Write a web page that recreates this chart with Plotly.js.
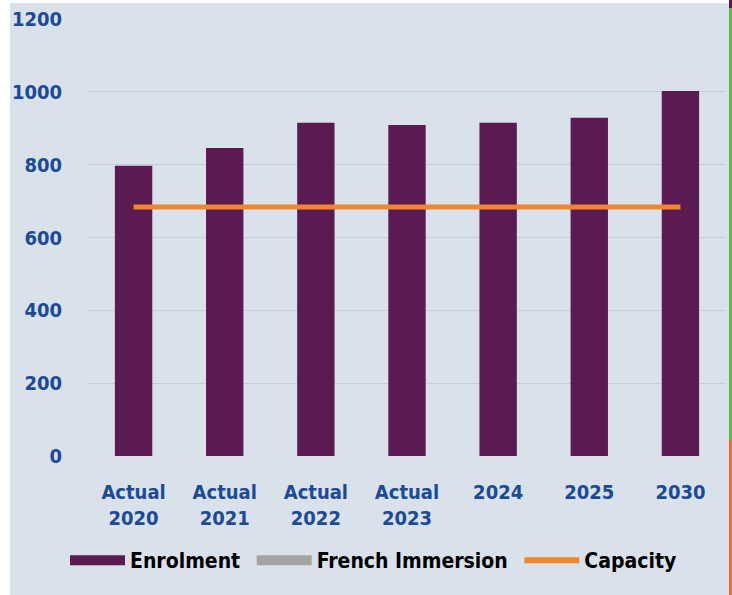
<!DOCTYPE html>
<html>
<head>
<meta charset="utf-8">
<script src="https://cdn.plot.ly/plotly-3.0.1.min.js"></script>
<style>
  html, body { margin: 0; padding: 0; background: #ffffff; }
  #chart { width: 732px; height: 595px; }
</style>
</head>
<body>
<div id="chart"></div>
<script>
// ---- data ----
var categories = ["Actual<br>2020", "Actual<br>2021", "Actual<br>2022", "Actual<br>2023", "2024", "2025", "2030"];
var enrolment = [797, 846, 915, 909, 915, 929, 1002];
var capacity = [684, 684, 684, 684, 684, 684, 684];
var frenchImmersion = [];
var legendNames = ["Enrolment", "French Immersion", "Capacity"];
var yTickValues = [0, 200, 400, 600, 800, 1000, 1200];

var FONT = "'DejaVu Sans Condensed', 'Liberation Sans Narrow', sans-serif";
var BLUE = "#1b4a98";
var PURPLE = "#5c1a52";
var ORANGE = "#f0862e";
var GRAY = "#a3a3a3";
var BG = "#d9e1ea";

var traces = [
  {
    type: "bar", x: categories, y: enrolment, name: legendNames[0],
    marker: { color: PURPLE, line: { width: 0 } },
    width: 0.41, showlegend: false, hoverinfo: "x+y"
  },
  {
    type: "scatter", mode: "lines", x: categories, y: capacity, name: legendNames[2],
    line: { color: ORANGE, width: 5 }, showlegend: false
  },
  // legend entries
  {
    type: "scatter", mode: "lines", x: [null], y: [null],
    name: legendNames[0] + "\u00a0", line: { color: PURPLE, width: 10 }, legendrank: 1, hoverinfo: "skip"
  },
  {
    type: "scatter", mode: "lines", x: [null], y: frenchImmersion.length ? frenchImmersion : [null],
    name: legendNames[1] + "\u00a0", line: { color: GRAY, width: 10 }, legendrank: 2, hoverinfo: "skip"
  },
  {
    type: "scatter", mode: "lines", x: [null], y: [null],
    name: legendNames[2], line: { color: ORANGE, width: 6 }, legendrank: 3, hoverinfo: "skip"
  }
];

function px2x(p) { return (p - 88) / 638; }
function px2y(p) { return (456 - p) / 437; }

var tickFont = { family: FONT, size: 20, color: BLUE, weight: "bold" };

var layout = {
  width: 732, height: 595,
  margin: { l: 88, r: 6, t: 19, b: 139 },
  paper_bgcolor: BG, plot_bgcolor: BG,
  font: tickFont,
  showlegend: true,
  legend: {
    orientation: "h", x: px2x(65), xanchor: "left", y: px2y(540), yanchor: "top",
    font: { family: FONT, size: 21, color: "#000000", weight: "bold" },
    bgcolor: "rgba(0,0,0,0)", itemwidth: 55, traceorder: "normal",
    itemclick: false, itemdoubleclick: false
  },
  xaxis: {
    type: "category", showgrid: false, zeroline: false, showline: false,
    ticks: "", tickfont: tickFont, ticklabelstandoff: 22, fixedrange: true
  },
  yaxis: {
    range: [0, 1200], tickvals: yTickValues, ticktext: yTickValues.map(String),
    showgrid: true, gridcolor: "#c6ced8", gridwidth: 1, zeroline: false, showline: false,
    ticks: "", tickfont: tickFont, ticklabelstandoff: 25, fixedrange: true
  },
  shapes: [
    { type: "rect", xref: "paper", yref: "paper", x0: px2x(0), x1: px2x(10), y0: px2y(595), y1: px2y(0),
      fillcolor: "#ffffff", line: { width: 0 }, layer: "above" },
    { type: "rect", xref: "paper", yref: "paper", x0: px2x(0), x1: px2x(732), y0: px2y(3), y1: px2y(0),
      fillcolor: "#ffffff", line: { width: 0 }, layer: "above" },
    { type: "rect", xref: "paper", yref: "paper", x0: px2x(729), x1: px2x(732), y0: px2y(440), y1: px2y(8),
      fillcolor: "#5cb84a", line: { width: 0 }, layer: "above" },
    { type: "rect", xref: "paper", yref: "paper", x0: px2x(729), x1: px2x(732), y0: px2y(595), y1: px2y(440),
      fillcolor: "#ee6a3a", line: { width: 0 }, layer: "above" },
    { type: "rect", xref: "paper", yref: "paper", x0: px2x(729), x1: px2x(732), y0: px2y(8), y1: px2y(0),
      fillcolor: "#5c1a52", line: { width: 0 }, layer: "above" }
  ]
};

Plotly.newPlot("chart", traces, layout, { displayModeBar: false, staticPlot: true });
</script>
</body>
</html>
